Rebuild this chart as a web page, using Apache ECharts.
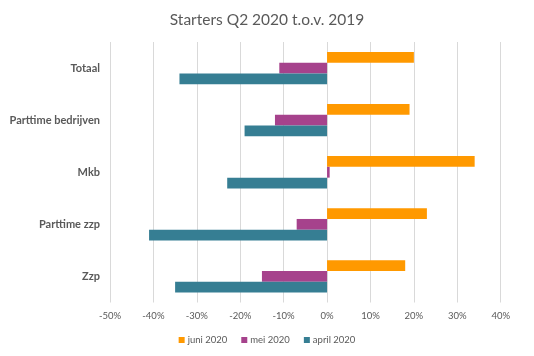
<!DOCTYPE html>
<html>
<head>
<meta charset="utf-8">
<script src="https://cdn.jsdelivr.net/npm/echarts@6/dist/echarts.min.js"></script>
<style>html,body{margin:0;padding:0;background:#fff}#c{width:534px;height:356px}</style>
</head>
<body>
<div id="c"></div>
<script>
const categories = ['Totaal', 'Parttime bedrijven', 'Mkb', 'Parttime zzp', 'Zzp'];
const seriesNames = ['juni 2020', 'mei 2020', 'april 2020'];
const juni2020 = [20, 19, 34, 23, 18];
const mei2020 = [-11, -12, 0.6, -7, -15];
const april2020 = [-34, -19, -23, -41, -35];
const xTicks = { min: -50, max: 40, interval: 10 };

const colors = ['#FF9900', '#A6428C', '#367E93'];
const font = 'Lato, "Open Sans", sans-serif';
const chart = echarts.init(document.getElementById('c'), null, { renderer: 'canvas' });
const values = [juni2020, mei2020, april2020];
chart.setOption({
  animation: false,
  title: {
    text: 'Starters Q2 2020 t.o.v. 2019',
    left: 'center', top: 7,
    textStyle: { fontFamily: font, fontSize: 15.5, fontWeight: 'normal', color: '#595959' }
  },
  legend: {
    data: seriesNames,
    bottom: 6, left: 'center',
    itemWidth: 6, itemHeight: 6, itemGap: 14,
    icon: 'rect',
    textStyle: { fontFamily: font, fontSize: 9.5, color: '#595959', padding: [0, 0, 0, -2] }
  },
  grid: { left: 110, right: 33.3, top: 42, bottom: 53.5, containLabel: false },
  xAxis: {
    type: 'value',
    min: xTicks.min, max: xTicks.max, interval: xTicks.interval,
    axisLabel: { formatter: '{value}%', fontFamily: font, fontSize: 9.5, color: '#595959', margin: 8 },
    axisLine: { show: false }, axisTick: { show: false },
    splitLine: { lineStyle: { color: '#D9D9D9', width: 1 } }
  },
  yAxis: {
    type: 'category', data: categories, inverse: true,
    axisLine: { show: false }, axisTick: { show: false },
    axisLabel: { fontFamily: font, fontSize: 11, fontWeight: 'bold', color: '#595959', margin: 10 }
  },
  series: seriesNames.map((n, i) => ({
    name: n, type: 'bar', data: values[i],
    barGap: '0%', barCategoryGap: '38%',
    itemStyle: { color: colors[i] }
  }))
});
</script>
</body>
</html>
